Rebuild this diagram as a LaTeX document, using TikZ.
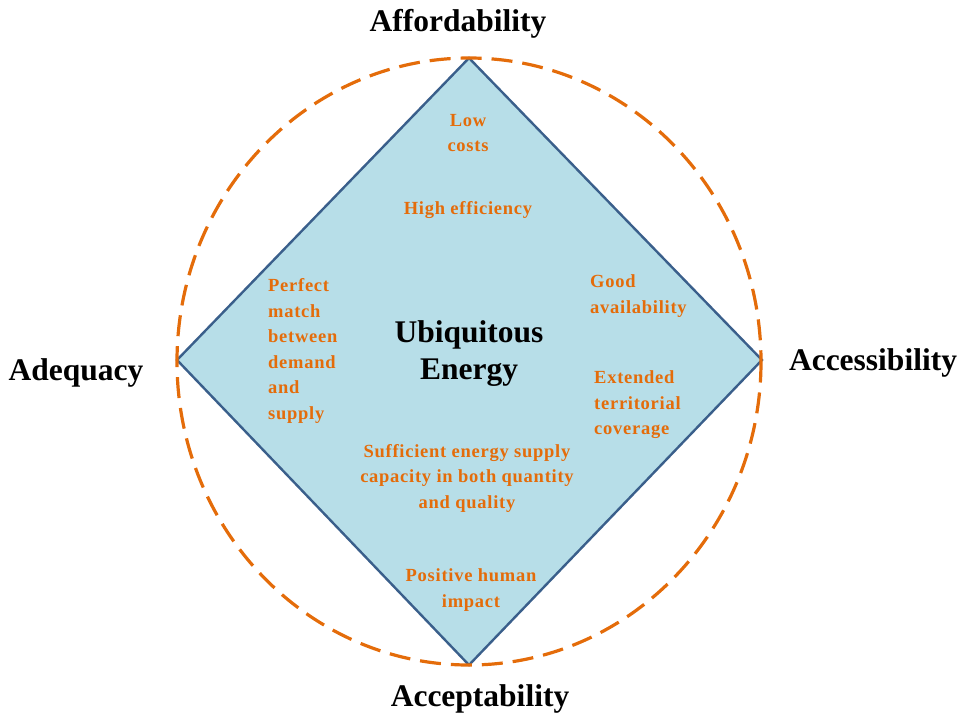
\documentclass[tikz,border=0pt]{standalone}
\usepackage{fontspec}
\setmainfont{Liberation Serif}
\newfontfamily\spacedfont[LetterSpace=4]{Liberation Serif}
\usepackage{tikz}
\usetikzlibrary{positioning,calc}
\definecolor{ringorange}{HTML}{E46C0A}
\definecolor{diamondfill}{HTML}{B7DEE8}
\definecolor{diamondline}{HTML}{3A5F8B}
\tikzset{
  corner/.style={font=\fontsize{31.5}{36}\selectfont\bfseries,text=black,inner sep=0pt},
  item/.style={font=\spacedfont\fontsize{18.5}{25.5}\selectfont\bfseries,text=ringorange,inner sep=0pt},
}

\begin{document}
\begin{tikzpicture}[x=1pt,y=-1pt]
\useasboundingbox (0,0) rectangle (957,716);
\coordinate (T) at (469,58);
\coordinate (R) at (762,360);
\coordinate (B) at (469,665);
\coordinate (L) at (177,360);
% diamond and dashed ring
\draw[line width=2.4pt,diamondline,fill=diamondfill,line join=miter] (T) -- (R) -- (B) -- (L) -- cycle;
\draw[line width=3.2pt,ringorange,dash pattern=on 21pt off 10pt] (469,361.5) ellipse [x radius=292, y radius=303.5];
\node[corner] (aff) at (458,24) {Affordability};
\node[corner] (adq) at (76,373) {Adequacy};
\node[corner] (acc) at (873,363) {Accessibility};
\node[corner] (acp) at (480,699) {Acceptability};
\node[corner,align=center,font=\fontsize{31.5}{37}\selectfont\bfseries] (ue) at (469,354) {Ubiquitous\\Energy};
\node[item,align=center] (cost) at (468,133) {Low\\costs};
\node[item] (eff) at (468,210) {High efficiency};
\node[item,align=left,anchor=west] (match) at (268,351) {Perfect\\match\\between\\demand\\and\\supply};
\node[item,align=left,anchor=west] (avail) at (590,296) {Good\\availability};
\node[item,align=left,anchor=west] (cover) at (594,405) {Extended\\territorial\\coverage};
\node[item,align=center] (cap) at (467,478) {Sufficient energy supply\\capacity in both quantity\\and quality};
\node[item,align=center] (human) at (471,590) {Positive human\\impact};
\end{tikzpicture}
\end{document}
